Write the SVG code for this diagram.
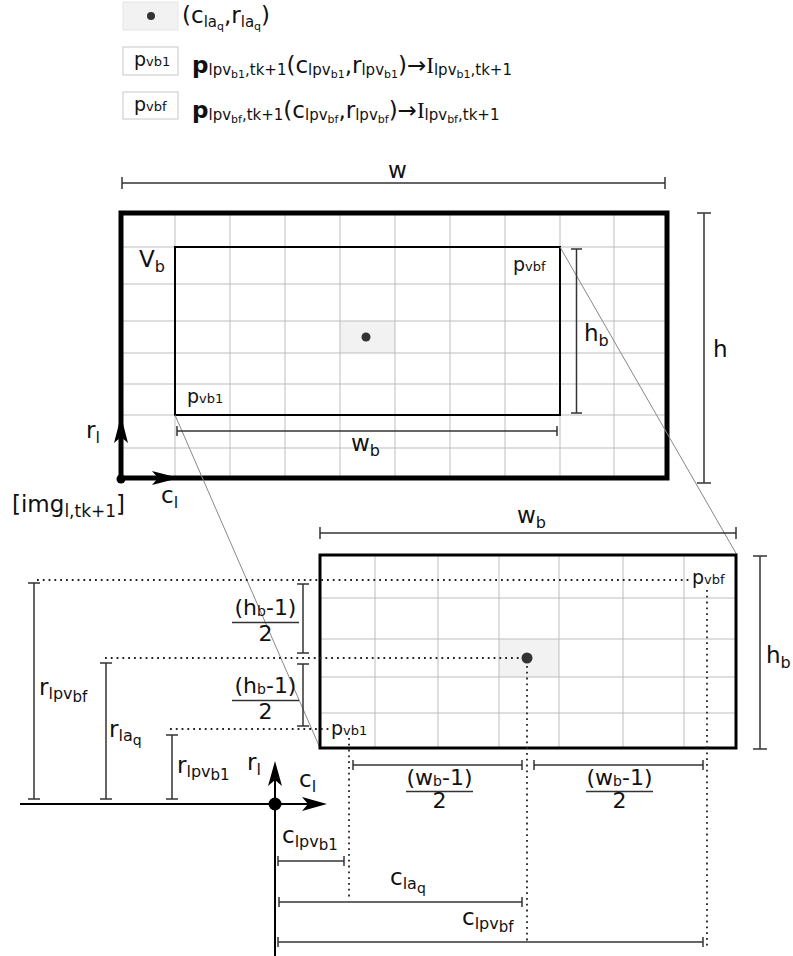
<svg xmlns="http://www.w3.org/2000/svg" width="793" height="956" viewBox="0 0 793 956">
<style>
text{font-family:"DejaVu Sans",Verdana,sans-serif;fill:#111;font-size:23px}
.pl{font-size:19px}
.fr{font-size:22px}
.grid line{stroke:#bdbdbd;stroke-width:1}
.dim line{stroke:#333;stroke-width:1.5;fill:none}
.dot line{stroke:#222;stroke-width:1.8;stroke-dasharray:1.8 4;stroke-linecap:butt}
.proj{stroke:#888;stroke-width:1}
.hl{fill:#f2f2f2}
.ax{stroke:#000;stroke-width:2.5}
.ser{font-family:"Liberation Serif","DejaVu Serif",serif}
</style>

<g id="legend">
  <rect x="123" y="2" width="55" height="28" fill="#f2f2f2" stroke="#e6e6e6"/>
  <circle cx="151" cy="16" r="4" fill="#333"/>
  <text x="182" y="23" font-size="22">(c<tspan font-size="15" dy="4">la</tspan><tspan font-size="11" dy="3">q</tspan><tspan dy="-7">,r</tspan><tspan font-size="15" dy="4">la</tspan><tspan font-size="11" dy="3">q</tspan><tspan dy="-7">)</tspan></text>
  <rect x="123" y="47" width="55" height="28" fill="#fff" stroke="#c8c8c8"/>
  <text x="134" y="66" class="pl">p<tspan font-size="13">vb1</tspan></text>
  <text x="192" y="73"><tspan font-weight="bold">p</tspan><tspan font-size="15" dy="2">lpv</tspan><tspan font-size="11" dy="3">b1</tspan><tspan font-size="15" dy="-3">,tk+1</tspan><tspan dy="-2">(c</tspan><tspan font-size="15" dy="2">lpv</tspan><tspan font-size="11" dy="3">b1</tspan><tspan dy="-5">,r</tspan><tspan font-size="15" dy="2">lpv</tspan><tspan font-size="11" dy="3">b1</tspan><tspan dy="-5">)→</tspan><tspan class="ser">I</tspan><tspan font-size="15" dy="2">lpv</tspan><tspan font-size="11" dy="3">b1</tspan><tspan font-size="15" dy="-3">,tk+1</tspan></text>
  <rect x="123" y="92" width="55" height="27" fill="#fff" stroke="#c8c8c8"/>
  <text x="134" y="111" class="pl">p<tspan font-size="13">vbf</tspan></text>
  <text x="192" y="118"><tspan font-weight="bold">p</tspan><tspan font-size="15" dy="2">lpv</tspan><tspan font-size="11" dy="3">bf</tspan><tspan font-size="15" dy="-3">,tk+1</tspan><tspan dy="-2">(c</tspan><tspan font-size="15" dy="2">lpv</tspan><tspan font-size="11" dy="3">bf</tspan><tspan dy="-5">,r</tspan><tspan font-size="15" dy="2">lpv</tspan><tspan font-size="11" dy="3">bf</tspan><tspan dy="-5">)→</tspan><tspan class="ser">I</tspan><tspan font-size="15" dy="2">lpv</tspan><tspan font-size="11" dy="3">bf</tspan><tspan font-size="15" dy="-3">,tk+1</tspan></text>
</g>

<g id="image-top">
  <rect class="hl" x="340" y="321" width="55" height="32"/>
  <g class="grid">
    <line x1="175" y1="213" x2="175" y2="478"/><line x1="230" y1="213" x2="230" y2="478"/>
    <line x1="285" y1="213" x2="285" y2="478"/><line x1="340" y1="213" x2="340" y2="478"/>
    <line x1="395" y1="213" x2="395" y2="478"/><line x1="450" y1="213" x2="450" y2="478"/>
    <line x1="505" y1="213" x2="505" y2="478"/><line x1="560" y1="213" x2="560" y2="478"/>
    <line x1="614" y1="213" x2="614" y2="478"/>
    <line x1="121" y1="247" x2="667" y2="247"/><line x1="121" y1="284" x2="667" y2="284"/>
    <line x1="121" y1="321" x2="667" y2="321"/><line x1="121" y1="353" x2="667" y2="353"/>
    <line x1="121" y1="384" x2="667" y2="384"/><line x1="121" y1="415" x2="667" y2="415"/>
    <line x1="121" y1="448" x2="667" y2="448"/>
  </g>
  <rect x="121" y="213" width="546" height="265" fill="none" stroke="#000" stroke-width="5"/>
  <circle cx="366" cy="337" r="4.5" fill="#333"/>
</g>

<g id="vb">
  <rect x="175" y="247" width="385" height="168" fill="none" stroke="#000" stroke-width="2"/>
  <text x="139" y="267">V<tspan font-size="16" dy="5">b</tspan></text>
  <text x="513" y="271" class="pl">p<tspan font-size="13">vbf</tspan></text>
  <text x="187" y="403" class="pl">p<tspan font-size="13">vb1</tspan></text>
</g>

<g id="axes-top">
  <line class="ax" x1="121" y1="478" x2="121" y2="436"/>
  <polygon points="121,416 128,443 121,437 114,443" fill="#000"/>
  <line class="ax" x1="121" y1="478" x2="158" y2="478"/>
  <polygon points="179,478 152,485 158,478 152,471" fill="#000"/>
  <circle cx="121" cy="479" r="4.5" fill="#000"/>
  <text x="86" y="438">r<tspan font-size="16" dy="5">l</tspan></text>
  <text x="161" y="503">c<tspan font-size="16" dy="5">l</tspan></text>
  <text x="12" y="512">[img<tspan font-size="17" dy="5">l,tk+1</tspan><tspan dy="-5">]</tspan></text>
</g>

<g id="connectors">
  <line class="proj" x1="560" y1="247" x2="737" y2="555"/>
  <line class="proj" x1="175" y1="415" x2="320" y2="748"/>
</g>

<g id="dims-top" class="dim">
  <line x1="122" y1="183" x2="665" y2="183"/><line x1="122" y1="177" x2="122" y2="189"/><line x1="665" y1="177" x2="665" y2="189"/>
  <line x1="704" y1="213" x2="704" y2="483"/><line x1="697" y1="213" x2="711" y2="213"/><line x1="697" y1="483" x2="711" y2="483"/>
  <line x1="576.5" y1="249" x2="576.5" y2="413"/><line x1="571" y1="249" x2="582" y2="249"/><line x1="571" y1="413" x2="582" y2="413"/>
  <line x1="177" y1="431" x2="557" y2="431"/><line x1="177" y1="426" x2="177" y2="436"/><line x1="557" y1="426" x2="557" y2="436"/>
</g>
<g id="dims-top-labels">
  <text x="388" y="178">w</text>
  <text x="713" y="357">h</text>
  <text x="584" y="341">h<tspan font-size="16" dy="5">b</tspan></text>
  <text x="351" y="451">w<tspan font-size="16" dy="5">b</tspan></text>
</g>

<g id="block-bottom">
  <rect class="hl" x="499" y="639" width="60" height="38"/>
  <g class="grid">
    <line x1="375" y1="555" x2="375" y2="748"/><line x1="438" y1="555" x2="438" y2="748"/>
    <line x1="499" y1="555" x2="499" y2="748"/><line x1="559" y1="555" x2="559" y2="748"/>
    <line x1="623" y1="555" x2="623" y2="748"/><line x1="684" y1="555" x2="684" y2="748"/>
    <line x1="320" y1="598" x2="736" y2="598"/><line x1="320" y1="639" x2="736" y2="639"/>
    <line x1="320" y1="677" x2="736" y2="677"/><line x1="320" y1="713" x2="736" y2="713"/>
  </g>
  <rect x="320" y="555" width="416" height="193" fill="none" stroke="#000" stroke-width="3"/>
  <circle cx="527" cy="658" r="5.5" fill="#333"/>
  <text x="692" y="584" class="pl">p<tspan font-size="13">vbf</tspan></text>
  <text x="331" y="735" class="pl">p<tspan font-size="13">vb1</tspan></text>
</g>

<g id="dotted" class="dot">
  <line x1="37" y1="580" x2="689" y2="580"/>
  <line x1="105" y1="658" x2="520" y2="658"/>
  <line x1="170" y1="729" x2="329" y2="729"/>
  <line x1="349" y1="738" x2="349" y2="897"/>
  <line x1="527" y1="666" x2="527" y2="942"/>
  <line x1="707" y1="590" x2="707" y2="946"/>
</g>

<g id="axes-bottom">
  <line x1="20" y1="804" x2="310" y2="804" stroke="#000" stroke-width="2"/>
  <polygon points="327,804 302,811 308,804 302,797" fill="#000"/>
  <line x1="275" y1="956" x2="275" y2="778" stroke="#000" stroke-width="2"/>
  <polygon points="275,761 282,786 275,780 268,786" fill="#000"/>
  <circle cx="275" cy="804" r="6.5" fill="#000"/>
  <text x="247" y="770">r<tspan font-size="16" dy="5">l</tspan></text>
  <text x="299" y="787">c<tspan font-size="16" dy="5">l</tspan></text>
</g>

<g id="dims-bottom" class="dim">
  <line x1="320" y1="533" x2="736" y2="533"/><line x1="320" y1="527" x2="320" y2="539"/><line x1="736" y1="527" x2="736" y2="539"/>
  <line x1="760" y1="556" x2="760" y2="749"/><line x1="753" y1="556" x2="767" y2="556"/><line x1="753" y1="749" x2="767" y2="749"/>
  <line x1="34" y1="583" x2="34" y2="799"/><line x1="28" y1="583" x2="40" y2="583"/><line x1="28" y1="799" x2="40" y2="799"/>
  <line x1="106" y1="663" x2="106" y2="799"/><line x1="100" y1="663" x2="112" y2="663"/><line x1="100" y1="799" x2="112" y2="799"/>
  <line x1="172" y1="735" x2="172" y2="799"/><line x1="166" y1="735" x2="178" y2="735"/><line x1="166" y1="799" x2="178" y2="799"/>
  <line x1="303" y1="584" x2="303" y2="653"/><line x1="297" y1="584" x2="309" y2="584"/><line x1="297" y1="653" x2="309" y2="653"/>
  <line x1="303" y1="664" x2="303" y2="726"/><line x1="297" y1="664" x2="309" y2="664"/><line x1="297" y1="726" x2="309" y2="726"/>
  <line x1="353" y1="765" x2="522" y2="765"/><line x1="353" y1="760" x2="353" y2="770"/><line x1="522" y1="760" x2="522" y2="770"/>
  <line x1="534" y1="765" x2="703" y2="765"/><line x1="534" y1="760" x2="534" y2="770"/><line x1="703" y1="760" x2="703" y2="770"/>
  <line x1="278" y1="861" x2="344" y2="861"/><line x1="278" y1="856" x2="278" y2="866"/><line x1="344" y1="856" x2="344" y2="866"/>
  <line x1="279" y1="902" x2="522" y2="902"/><line x1="279" y1="897" x2="279" y2="907"/><line x1="522" y1="897" x2="522" y2="907"/>
  <line x1="278" y1="942" x2="703" y2="942"/><line x1="278" y1="937" x2="278" y2="947"/><line x1="703" y1="937" x2="703" y2="947"/>
  <line x1="232" y1="622.5" x2="299" y2="622.5"/>
  <line x1="232" y1="700.5" x2="299" y2="700.5"/>
  <line x1="406" y1="791.5" x2="473" y2="791.5"/>
  <line x1="586" y1="791.5" x2="653" y2="791.5"/>
</g>

<g id="dims-bottom-labels">
  <text x="517" y="523">w<tspan font-size="16" dy="5">b</tspan></text>
  <text x="766" y="663">h<tspan font-size="16" dy="5">b</tspan></text>
  <text x="39" y="695">r<tspan font-size="16" dy="4">lpv</tspan><tspan font-size="15" dy="3">bf</tspan></text>
  <text x="109" y="737">r<tspan font-size="16" dy="4">la</tspan><tspan font-size="14" dy="4">q</tspan></text>
  <text x="177" y="773">r<tspan font-size="16" dy="4">lpv</tspan><tspan font-size="15" dy="3">b1</tspan></text>
  <text x="265.5" y="615" class="fr" text-anchor="middle">(h<tspan font-size="14" dy="1">b</tspan><tspan dy="-1">-1)</tspan></text>
  <text x="265.5" y="641" class="fr" text-anchor="middle">2</text>
  <text x="265.5" y="693" class="fr" text-anchor="middle">(h<tspan font-size="14" dy="1">b</tspan><tspan dy="-1">-1)</tspan></text>
  <text x="265.5" y="719" class="fr" text-anchor="middle">2</text>
  <text x="439.5" y="785" class="fr" text-anchor="middle">(w<tspan font-size="14" dy="1">b</tspan><tspan dy="-1">-1)</tspan></text>
  <text x="439.5" y="808" class="fr" text-anchor="middle">2</text>
  <text x="619.5" y="785" class="fr" text-anchor="middle">(w<tspan font-size="14" dy="1">b</tspan><tspan dy="-1">-1)</tspan></text>
  <text x="619.5" y="808" class="fr" text-anchor="middle">2</text>
  <text x="282" y="843">c<tspan font-size="16" dy="4">lpv</tspan><tspan font-size="15" dy="3">b1</tspan></text>
  <text x="390" y="885">c<tspan font-size="16" dy="4">la</tspan><tspan font-size="14" dy="4">q</tspan></text>
  <text x="462" y="925">c<tspan font-size="16" dy="4">lpv</tspan><tspan font-size="15" dy="3">bf</tspan></text>
</g>
</svg>
